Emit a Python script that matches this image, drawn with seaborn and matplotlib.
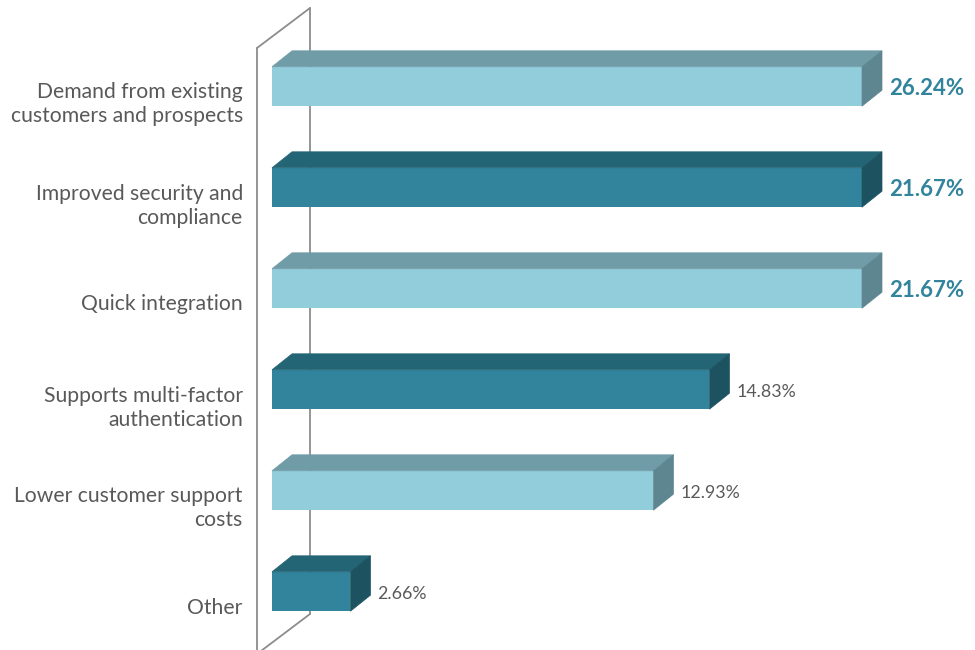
import matplotlib
matplotlib.use("Agg")
import matplotlib.pyplot as plt
from matplotlib.patches import Polygon
from matplotlib.lines import Line2D
from matplotlib.transforms import ScaledTranslation
import seaborn as sns
import pandas as pd
import numpy as np

categories = [
    "Demand from existing\ncustomers and prospects",
    "Improved security and\ncompliance",
    "Quick integration",
    "Supports multi-factor\nauthentication",
    "Lower customer support\ncosts",
    "Other",
]
values = [26.24, 21.67, 21.67, 14.83, 12.93, 2.66]
axis_max = 20

LIGHT = {"front": "#92CDDC", "top": "#6F9CA7", "side": "#5E8690"}
DARK = {"front": "#31849B", "top": "#236475", "side": "#1D5261"}
styles = [LIGHT, DARK, LIGHT, DARK, LIGHT, DARK]
TEXT = "#595959"
ACCENT = "#31849B"

sns.set_theme(style="white")
plt.rcParams["font.family"] = ["Lato", "DejaVu Sans"]

W, H = 975, 650
fig = plt.figure(figsize=(W / 100, H / 100), dpi=100)
ax_left, ax_right = 272, 862
ax_top, ax_bot = 36, 642
ax = fig.add_axes([ax_left / W, 1 - ax_bot / H, (ax_right - ax_left) / W, (ax_bot - ax_top) / H])
ax.patch.set_facecolor("none")

df = pd.DataFrame({"category": categories, "value": values})
bar_h = 0.39
sns.barplot(data=df, y="category", x="value", hue="category",
            palette=[s["front"] for s in styles], orient="h",
            width=bar_h, legend=False, ax=ax, saturation=1, zorder=3,
            linewidth=0)
ax.set_xlim(0, axis_max)
ax.set_ylim(len(categories) - 0.5, -0.5)

# depth offset of the 3-D faces (pixels -> data units)
p0 = ax.transData.transform((0, 0))
p1 = ax.transData.inverted().transform((p0[0] + 20, p0[1] + 16))
dx, dy = p1[0], p1[1]  # dy negative in data because y is inverted

for i, (v, st) in enumerate(zip(values, styles)):
    L = min(v, axis_max)
    yt, yb = i - bar_h / 2, i + bar_h / 2
    top = Polygon([(0, yt), (L, yt), (L + dx, yt + dy), (dx, yt + dy)],
                  closed=True, facecolor=st["top"], edgecolor=st["top"],
                  linewidth=0.5, zorder=3, clip_on=False)
    side = Polygon([(L, yt), (L + dx, yt + dy), (L + dx, yb + dy), (L, yb)],
                   closed=True, facecolor=st["side"], edgecolor=st["side"],
                   linewidth=0.5, zorder=3, clip_on=False)
    ax.add_patch(top)
    ax.add_patch(side)
    clipped = v > axis_max
    lbl = f"{v:.2f}%"
    off = ScaledTranslation(27 / 100, 0, fig.dpi_scale_trans)
    ax.text(L, i + 0.02, lbl, transform=ax.transData + off, va="center", ha="left",
            fontsize=16 if clipped else 12.8,
            fontweight="bold" if clipped else "normal",
            color=ACCENT if clipped else TEXT, clip_on=False)

ax.set_xlabel("")
ax.set_ylabel("")
ax.set_xticks([])
ax.tick_params(axis="y", length=0, pad=21, labelsize=15.2, labelcolor=TEXT)
for lab in ax.get_yticklabels():
    lab.set_multialignment("right")
    lab.set_linespacing(1.25)
    lab.set_transform(lab.get_transform() + ScaledTranslation(0, -14 / 100, fig.dpi_scale_trans))
for s in ax.spines.values():
    s.set_visible(False)

# side wall of the 3-D plot area
wall_kw = dict(transform=fig.transFigure, color="#8C8C8C", linewidth=1.3)
def fx(x):
    return x / W
def fy(y):
    return 1 - y / H
fig.add_artist(Line2D([fx(310), fx(310)], [fy(8), fy(614)], zorder=-1, **wall_kw))
fig.add_artist(Line2D([fx(257), fx(310)], [fy(48), fy(8)], zorder=5, **wall_kw))
fig.add_artist(Line2D([fx(257), fx(257)], [fy(48), fy(660)], zorder=5, **wall_kw))
fig.add_artist(Line2D([fx(310), fx(257)], [fy(614), fy(654)], zorder=-1, **wall_kw))

fig.savefig("out.png", dpi=100, facecolor="white")
